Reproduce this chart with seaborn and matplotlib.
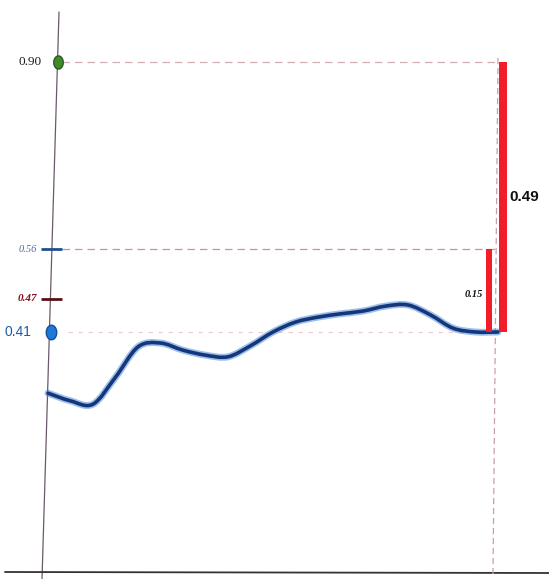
import numpy as np
import pandas as pd
import matplotlib
matplotlib.use("Agg")
import matplotlib.pyplot as plt
from matplotlib.path import Path
from matplotlib.patches import PathPatch
import seaborn as sns

# ---- data ----
step = list(range(21))
series = [0.299, 0.285, 0.279, 0.328, 0.383, 0.390, 0.377, 0.368, 0.365, 0.385,
          0.410, 0.428, 0.437, 0.443, 0.448, 0.457, 0.459, 0.441, 0.417, 0.410, 0.410]
bar_labels = ["0.15", "0.49"]
bar_heights = [0.15, 0.49]
bar_base = 0.41
ref_values = [0.90, 0.56, 0.47, 0.41]
ref_labels = ["0.90", "0.56", "0.47", "0.41"]
ref_colors = ["#1c1c1c", "#4f6f9c", "#8a1020", "#1f5aa6"]

sns.set_theme(style="white")
plt.rcParams['font.family'] = ['Liberation Sans', 'DejaVu Sans']

W, H = 549, 579
fig = plt.figure(figsize=(W / 100, H / 100), dpi=100)
ax = fig.add_axes([0, 0, 1, 1])
fig.patch.set_facecolor("white")
ax.set_facecolor("white")

px = 22.5  # pixels per step
x0 = 48
ax.set_xlim(-x0 / px, 20 + (W - 498) / px)
ax.set_ylim(0.41 - (H - 332) / 551, 0.41 + 332 / 551)
for s in ax.spines.values():
    s.set_visible(False)
ax.set_xticks([]); ax.set_yticks([])

def fx(p):  # figure pixel x -> axes fraction
    return p / W
def fy(p):
    return 1 - p / H

# hand-drawn axes
ax.plot([fx(59), fx(42)], [fy(12), fy(579)], transform=ax.transAxes, color="#6a5a6a", lw=0.9)
ax.plot([fx(5), fx(549)], [fy(572), fy(573)], transform=ax.transAxes, color="#333", lw=1.3)
ax.plot([fx(498), fx(493)], [fy(58), fy(574)], transform=ax.transAxes,
        color="#c9a0a8", lw=0.9, ls=(0, (5, 3)))

# dashed reference lines
last = step[-1]
ax.hlines(ref_values[0], 0.62, last, color="#d2aeb0", lw=0.9, ls=(0, (6, 4)))
ax.hlines(ref_values[1], 0.62, last, color="#e08a90", lw=0.9, ls=(0, (6, 4)))
ax.hlines(ref_values[3], 0.9, 19.2, color="#eccdd0", lw=0.8, ls=(0, (4, 5)))

# smooth line (Catmull-Rom rendered as Bezier path through the data points)
df = pd.DataFrame({"step": step, "value": series})
pts = df[["step", "value"]].to_numpy(dtype=float)
verts = [tuple(pts[0])]
codes = [Path.MOVETO]
n = len(pts)
for i in range(n - 1):
    p0 = pts[max(i - 1, 0)]
    p1 = pts[i]
    p2 = pts[i + 1]
    p3 = pts[min(i + 2, n - 1)]
    c1 = p1 + (p2 - p0) / 6.0
    c2 = p2 - (p3 - p1) / 6.0
    verts += [tuple(c1), tuple(c2), tuple(p2)]
    codes += [Path.CURVE4] * 3
path = Path(verts, codes)
ax.add_patch(PathPatch(path, facecolor="none", edgecolor="#4a8fdc", lw=5.0, alpha=0.55,
                       capstyle="round", joinstyle="round", zorder=2))
ax.add_patch(PathPatch(path, facecolor="none", edgecolor="#16357a", lw=2.6,
                       capstyle="round", joinstyle="round", zorder=2))
sns.lineplot(data=df, x="step", y="value", ax=ax, color="#16357a", lw=0, legend=False)
ax.set_xlabel(""); ax.set_ylabel("")

# bars
bar_x = [last - 0.4, last + 0.22]
bar_w = [0.27, 0.38]
ax.bar(bar_x, bar_heights, width=bar_w, bottom=bar_base, color="#f21d2b", edgecolor="none", zorder=3)
ax.text(bar_x[0] - 0.25, bar_base + 0.45 * bar_heights[0], bar_labels[0], ha="right", va="center",
        fontsize=7.5, fontweight="bold", style="italic", family=["Liberation Serif"], color="#111")
ax.text(bar_x[1] + 0.3, bar_base + 0.5 * bar_heights[1], bar_labels[1], ha="left", va="center",
        fontsize=11, fontweight="bold", color="#111")

# ref markers on y-axis
t = np.linspace(0, 2 * np.pi, 40)
ell = list(zip(0.72 * np.cos(t), np.sin(t)))
ax.scatter([(58 - x0) / px], [ref_values[0]], marker=ell, s=90, color="#3f8a2c",
           edgecolor="#2a5f1e", zorder=5)
ax.plot([(41 - x0) / px, (62 - x0) / px], [ref_values[1]] * 2, color="#1f4f8f", lw=2, solid_capstyle="butt")
ax.plot([(41 - x0) / px, (62 - x0) / px], [ref_values[2]] * 2, color="#5a0f18", lw=2, solid_capstyle="butt")
ax.scatter([(51 - x0) / px], [ref_values[3]], marker=ell, s=110, color="#1f78d6",
           edgecolor="#164f98", zorder=5)

ax.text((42 - x0) / px, ref_values[0], ref_labels[0], ha="right", va="center", fontsize=9.5,
        family=["Liberation Serif"], color=ref_colors[0])
ax.text((37 - x0) / px, ref_values[1], ref_labels[1], ha="right", va="center", fontsize=7.5,
        style="italic", family=["Liberation Serif"], color=ref_colors[1])
ax.text((37 - x0) / px, ref_values[2], ref_labels[2], ha="right", va="center", fontsize=8,
        style="italic", fontweight="bold", family=["Liberation Serif"], color=ref_colors[2])
ax.text((31 - x0) / px, ref_values[3], ref_labels[3], ha="right", va="center", fontsize=10,
        color=ref_colors[3])

fig.savefig("out.png", dpi=100, facecolor="white")
